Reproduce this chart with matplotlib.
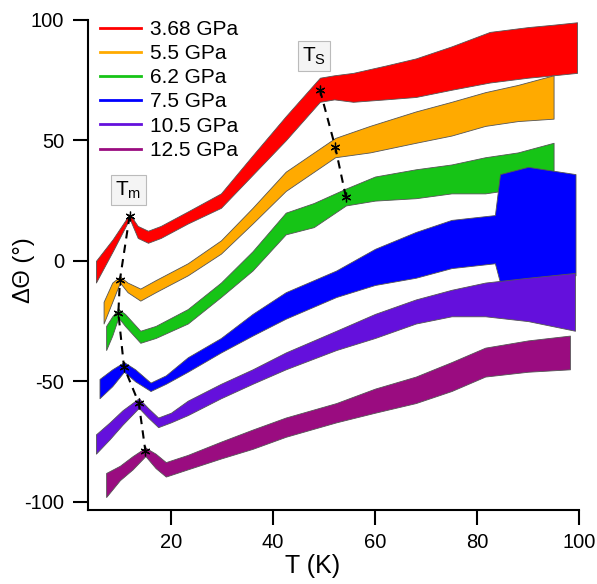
import matplotlib
matplotlib.use('Agg')
import matplotlib.pyplot as plt

plt.rcParams['font.family'] = ['Liberation Sans', 'DejaVu Sans']
plt.rcParams['axes.unicode_minus'] = False

# band envelopes (low / high), per pressure
labels = ['3.68 GPa', '5.5 GPa', '6.2 GPa', '7.5 GPa', '10.5 GPa', '12.5 GPa']
colors = ['#ff0000', '#ffaa00', '#16c416', '#0000ff', '#6410dc', '#9a0c80']

t_red = [5.3, 8.6, 11.9, 13.5, 15.5, 18, 23.3, 29.8, 35.7, 42.5, 49.2, 52, 55.7, 62, 68, 75, 82.5, 90, 95, 99.6]
lo_red = [-9, 4, 17.5, 9.5, 7.5, 9.5, 15.5, 22, 35, 50, 66, 67, 66, 67, 68, 71, 74, 76, 77, 78]
hi_red = [0, 9, 19.5, 14.5, 12.5, 14.5, 20.5, 28, 43, 60, 76, 77, 78, 81, 84, 89, 95, 97, 98, 99]

t_org = [6.8, 8.5, 10.0, 11.5, 14, 17, 23.3, 29.8, 36, 42.5, 52.2, 59, 68, 75, 81.6, 88, 95]
lo_org = [-26, -17, -9, -13, -16.5, -13, -6, 3, 15.5, 29, 43, 45, 49, 52, 56, 58, 59]
hi_org = [-17, -9, -6.5, -9, -11.5, -8, -1, 8.5, 22, 37, 51, 56, 62, 66, 70, 73, 77]

t_grn = [7.3, 8.5, 9.7, 11, 14, 17, 23.3, 29.8, 36, 42.5, 48, 54.3, 60, 68, 75, 81.6, 88, 95]
lo_grn = [-37, -31, -23.5, -27, -34, -32, -26, -15, -4, 11, 14, 23, 25, 26, 28, 28, 30, 35]
hi_grn = [-27, -23, -20, -22, -29, -27, -20, -9, 4, 20, 24, 30, 35, 38, 40, 43, 45, 49]

t_blu = [6.0, 8.5, 10.8, 13, 16, 19, 23.3, 29.8, 36, 42.5, 52.4, 60, 68, 75, 83.5, 84.5, 90, 99.3]
lo_blu = [-57, -52, -46, -50, -54, -51, -46, -38, -31, -24, -15, -10, -7, -3, -1, -9, -9, -6]
hi_blu = [-49, -45, -42, -45, -50.5, -47.5, -40, -32, -22, -13, -4, 5, 12, 17, 19, 36, 39, 36]

t_pur = [5.3, 8, 10.5, 13.7, 15.5, 17.5, 20, 23.3, 29.8, 36, 42.5, 52.4, 60, 68, 75, 81.6, 90, 99.2]
lo_pur = [-80, -74, -68, -61, -65, -69, -67, -64, -57, -51, -45, -37, -32, -26, -23, -23, -25, -29]
hi_pur = [-72, -67, -62, -57, -61, -65, -63, -58, -51, -45, -38, -29, -22, -16, -12, -9, -7, -5]

t_plm = [7.3, 10, 12.5, 15, 17, 19, 23.3, 29.8, 36, 42.5, 52.4, 60, 68, 75, 81.6, 90, 98.2]
lo_plm = [-98, -91, -86.5, -81, -86, -89.5, -86.5, -82, -78, -73, -67, -63, -59, -54, -48, -46, -45]
hi_plm = [-88, -85, -81, -77.5, -80, -83.5, -80.5, -75, -70, -65, -59, -53, -48, -42, -36, -33, -31]

# transition points
tm_t = [11.9, 10.0, 9.7, 10.8, 13.7, 15.0]
tm_v = [18.7, -7.9, -21.6, -44, -59, -79]
ts_t = [49.2, 52.2, 54.3]
ts_v = [71, 47.3, 26.5]

bands = [(t_red, lo_red, hi_red), (t_org, lo_org, hi_org), (t_grn, lo_grn, hi_grn),
         (t_blu, lo_blu, hi_blu), (t_pur, lo_pur, hi_pur), (t_plm, lo_plm, hi_plm)]

fig = plt.figure(figsize=(5.97, 5.84), dpi=100)
ax = fig.add_axes([0.147, 0.127, 0.823, 0.839])

for (t, lo, hi), c, lab in zip(bands, colors, labels):
    ax.fill_between(t, lo, hi, facecolor=c, edgecolor='#555555', linewidth=0.6)
    ax.plot([], [], color=c, lw=2, label=lab)

ax.plot(tm_t, tm_v, color='black', ls=(0, (4, 3)), lw=1.5)
ax.plot(ts_t, ts_v, color='black', ls=(0, (4, 3)), lw=1.5)
ax.plot(tm_t + ts_t, tm_v + ts_v, ls='none', marker=(6, 2, 0), ms=7, mew=0.9, color='black')

box = dict(boxstyle='square,pad=0.2', facecolor='#f4f4f4', edgecolor='#bbbbbb', lw=0.8)
ax.text(11.7, 29.3, r'T$_\mathregular{m}$', fontsize=15, ha='center', va='center', bbox=box)
ax.text(48.1, 85, r'T$_\mathregular{S}$', fontsize=15, ha='center', va='center', bbox=box)

ax.set_xlim(3.7, 100)
ax.set_ylim(-103.3, 100)
ax.set_xticks([20, 40, 60, 80, 100])
ax.set_yticks([-100, -50, 0, 50, 100])
for s in ['top', 'right']:
    ax.spines[s].set_visible(False)
for s in ['left', 'bottom']:
    ax.spines[s].set_linewidth(1.5)
ax.tick_params(direction='out', length=11, width=1.5, labelsize=14.5, pad=6)

ax.set_xlabel('T (K)', fontsize=18)
ax.set_ylabel('ΔΘ (°)', fontsize=17)
ax.xaxis.set_label_coords(0.458, -0.09)
ax.yaxis.set_label_coords(-0.108, 0.49)

ax.legend(loc='upper left', bbox_to_anchor=(0.024, 1.0), frameon=False, fontsize=15,
          borderpad=0, borderaxespad=0, handlelength=2.0, handletextpad=0.4, labelspacing=0.25)

fig.savefig('out.png', dpi=100)
